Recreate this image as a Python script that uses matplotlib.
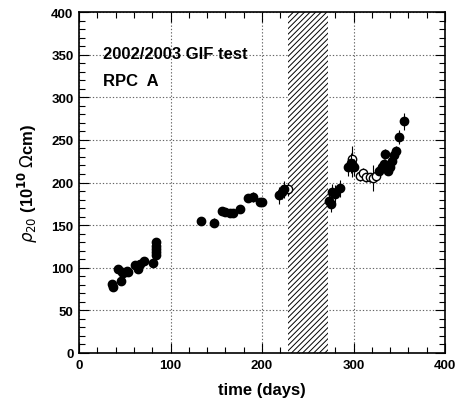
import matplotlib
matplotlib.use("Agg")
import matplotlib.pyplot as plt
from matplotlib.ticker import MultipleLocator
import numpy as np

plt.rcParams['font.family'] = ['Liberation Sans', 'DejaVu Sans']
plt.rcParams['hatch.linewidth'] = 0.7

# Filled points: day, resistivity, error
filled_day = [36, 37.5, 43, 45.5, 46.6, 48.5, 52, 54, 61, 64, 66.7, 71, 80.5,
              84.5, 84.5, 84.5, 84.5, 84.5,
              133, 147.5, 156, 159.6, 165, 168.6, 176, 185, 190, 198, 200,
              218.6, 221.5, 224,
              273.6, 275, 277, 280, 285, 294, 297, 300,
              328, 331, 333.5, 334.5, 338, 340, 342, 344, 346, 350, 355]
filled_val = [81, 77, 98.5, 84, 95, 93.5, 96, 94.5, 103, 99, 104, 107.5, 106,
              130, 126, 122, 118, 115,
              154.5, 153, 167, 165, 164, 164, 169, 181.5, 182.6, 177, 177,
              185, 189, 192,
              178.7, 175, 188.5, 186.5, 193.5, 218, 223, 218,
              214, 218, 222, 233.5, 214, 218, 225, 232, 237, 253, 272]
filled_err = [3, 3, 4, 4, 5, 5, 4, 4, 4, 4, 4, 4, 4,
              4, 4, 4, 4, 4,
              3, 5, 3, 3, 3, 3, 3, 4, 6, 5, 5,
              10, 8, 10,
              8, 10, 10, 10, 10, 10, 12, 10,
              5, 5, 5, 6, 5, 6, 6, 6, 6, 8, 10]

# Open points: day, resistivity, error
open_day = [228, 298, 298, 307, 310.7, 314, 317.6, 321, 325]
open_val = [192, 222, 228, 208, 211, 206, 206, 205, 208]
open_err = [8, 15, 15, 6, 6, 5, 5, 15, 6]

# Shaded (no data) interval
gap_start, gap_end = 228.5, 272.5

fig = plt.figure(figsize=(4.61, 4.02), dpi=100)
ax = fig.add_axes([79/461, 48/402, (445-79)/461, (354-13)/402])

ax.axvspan(gap_start, gap_end, facecolor='white', edgecolor='black',
           hatch='//////', linewidth=0, zorder=1)

ax.errorbar(open_day, open_val, yerr=open_err, fmt='o', mfc='white', mec='black',
            ecolor='black', ms=6, mew=1.0, elinewidth=0.8, capsize=0, zorder=3)
ax.errorbar(filled_day, filled_val, yerr=filled_err, fmt='o', color='black',
            ms=6, elinewidth=0.8, capsize=0, zorder=4)

ax.set_xlim(0, 400)
ax.set_ylim(0, 400)
ax.xaxis.set_major_locator(MultipleLocator(100))
ax.xaxis.set_minor_locator(MultipleLocator(20))
ax.yaxis.set_major_locator(MultipleLocator(50))
ax.yaxis.set_minor_locator(MultipleLocator(10))
ax.tick_params(which='both', direction='in', top=True, right=True, width=0.8)
ax.tick_params(which='major', length=7, labelsize=9.5, pad=4)
ax.tick_params(which='minor', length=4)
for lab in ax.get_xticklabels() + ax.get_yticklabels():
    lab.set_fontweight('bold')
for s in ax.spines.values():
    s.set_linewidth(1.2)

ax.grid(True, which='major', linestyle=(0, (1.2, 1.8)), color='#666666', linewidth=0.8)
ax.set_axisbelow(True)

ax.set_xlabel('time (days)', fontsize=12, fontweight='bold', labelpad=8)
ax.set_ylabel(r'$\rho_{20}$ (10$^{\mathbf{10}}$ $\Omega$cm)', fontsize=12,
              fontweight='bold', labelpad=8)

ax.text(26, 351, '2002/2003 GIF test', fontsize=12, fontweight='bold', va='center')
ax.text(26, 320, 'RPC  A', fontsize=12, fontweight='bold', va='center')

fig.savefig('out.png', dpi=100)
